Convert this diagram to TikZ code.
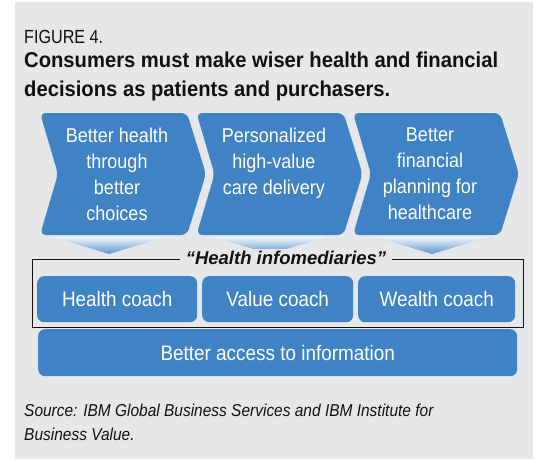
\documentclass[tikz,border=0pt]{standalone}
\usepackage{fontspec}
\setmainfont{Liberation Sans}
\newfontfamily\cond{Liberation Sans}[FakeStretch=0.9]
\newfontfamily\condmore{Liberation Sans}[FakeStretch=0.85]
\newfontfamily\condbold{Liberation Sans Bold}[FakeStretch=0.94]
\definecolor{bggray}{HTML}{E6E7E8}
\definecolor{cblue}{HTML}{3F83C5}
\definecolor{ink}{HTML}{111111}
\begin{document}
\begin{tikzpicture}[x=1pt,y=-1pt,
  chev/.style={fill=cblue, rounded corners=6pt},
  chevtext/.style={anchor=north, align=center, text=white, inner sep=0pt,
    font=\cond\fontsize{20}{26}\selectfont},
  bluebox/.style={fill=cblue, rounded corners=7pt, text=white, inner sep=0pt,
    anchor=north west, font=\cond\fontsize{21}{25}\selectfont},
  tri/.style={top color=cblue!8, bottom color=cblue!85},
  plain/.style={inner sep=0pt, text=ink, align=left, anchor=north west}
]
\useasboundingbox (0,0) rectangle (535,460);
\fill[white] (0,0) rectangle (535,460);
\fill[bggray] (15,2) rectangle (533,459);

% titles
\node[plain, anchor=base west, font=\condmore\fontsize{19}{20}\selectfont] (fig) at (24,44) {FIGURE 4.};
\node[plain, font=\condbold\fontsize{21.5}{29}\selectfont] (title) at (24,51.3)
  {Consumers must make wiser health and financial\\decisions as patients and purchasers.};

% chevrons
\fill[chev] (40,113) -- (187,113) -- (206,174) -- (187,235) -- (40,235) -- (58,174) -- cycle;
\fill[chev] (196.5,113) -- (343.5,113) -- (362.5,174) -- (343.5,235) -- (196.5,235) -- (214.5,174) -- cycle;
\fill[chev] (353,113) -- (500,113) -- (519,174) -- (500,235) -- (353,235) -- (371,174) -- cycle;

\node[chevtext] (c1) at (117,127.4) {Better health\\through\\better\\choices};
\node[chevtext] (c2) at (274,127.4) {Personalized\\high-value\\care delivery};
\node[chevtext] (c3) at (430,127.4) {Better\\financial\\planning for\\healthcare};

% gradient triangles
\shade[tri] (53,237) -- (165,237) -- (109,254) -- cycle;
\shade[tri] (214,237) -- (326,237) -- (270,254) -- cycle;
\shade[tri] (376,237) -- (488,237) -- (432,254) -- cycle;

% frame with label
\node[draw=ink, line width=0.8pt, inner sep=0pt, anchor=north west,
  minimum width=491pt, minimum height=68pt] (frame) at (32,259) {};
\node[fill=bggray, inner xsep=6pt, inner ysep=2pt, text=ink,
  font=\bfseries\itshape\fontsize{18.5}{20}\selectfont] (lab) at (286,257.5)
  {“Health infomediaries”};

% coach boxes
\node[bluebox, minimum width=160pt, minimum height=46pt] (health) at (37,276) {Health coach};
\node[bluebox, minimum width=151pt, minimum height=46pt] (value) at (202,276) {Value coach};
\node[bluebox, minimum width=157pt, minimum height=46pt] (wealth) at (358,276) {Wealth coach};
\node[bluebox, minimum width=479pt, minimum height=47pt] (access) at (38,329) {Better access to information};

% source
\node[plain, font=\cond\itshape\fontsize{17.2}{24}\selectfont] (src) at (24,403.5)
  {Source: IBM Global Business Services and IBM Institute for\\Business Value.};
\end{tikzpicture}
\end{document}
